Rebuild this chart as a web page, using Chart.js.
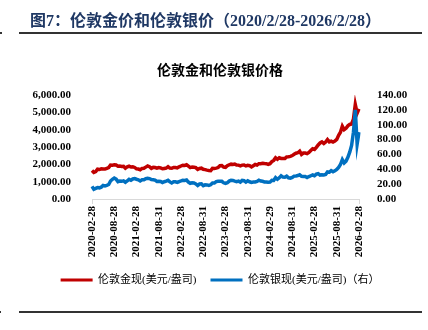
<!DOCTYPE html>
<html>
<head>
<meta charset="utf-8">
<script src="https://cdn.jsdelivr.net/npm/chart.js@4/dist/chart.umd.min.js"></script>
<style>
  body { margin: 0; background: #fff; }
  #wrap { position: relative; width: 428px; height: 330px; overflow: hidden; }
  #head { position: absolute; left: 30px; top: 7px; line-height: 22px; white-space: nowrap;
          font: bold 16px "Liberation Serif", "Noto Sans CJK SC"; color: #1f3864; }
  #sub { position: absolute; left: 0; top: 59px; width: 440px; text-align: center; line-height: 18px;
         font: bold 14px "Noto Sans CJK SC"; color: #000; }
  .rule { position: absolute; height: 2px; background: #333; }
  canvas { position: absolute; left: 0; top: 0; }
</style>
</head>
<body>
<div id="wrap">
  <canvas id="myChart" width="428" height="330"></canvas>
  <div id="head">图7：伦敦金价和伦敦银价（2020/2/28-2026/2/28）</div>
  <div class="rule" style="left:19px;top:32px;width:403px"></div>
  <div class="rule" style="left:0;top:32px;width:2px"></div>
  <div id="sub">伦敦金和伦敦银价格</div>
  <div class="rule" style="left:19px;top:311px;width:403px"></div>
  <div class="rule" style="left:0;top:311px;width:1px"></div>
</div>
<script>
// x-axis labels, one every six months
const tickLabels = ['2020-02-28', '2020-08-28', '2021-02-28', '2021-08-31', '2022-02-28', '2022-08-31',
  '2023-02-28', '2023-08-31', '2024-02-29', '2024-08-31', '2025-02-28', '2025-08-31', '2026-02-28'];

// London gold spot, USD/oz (mid-month and month-end)
const gold = [
  1640,
  1530, 1580, 1720, 1700, 1740, 1730, 1725, 1770, 1810, 1960, 1950, 1970, 1960, 1890, 1905, 1880, 1890, 1780, 1855, 1890,
  1845, 1860, 1820, 1740, 1730, 1690, 1765, 1770, 1840, 1905, 1860, 1765, 1825, 1815, 1780, 1815, 1795, 1745, 1765, 1785, 1860, 1780, 1770, 1820,
  1820, 1795, 1855, 1905, 1950, 1940, 1975, 1900, 1815, 1850, 1830, 1810, 1705, 1765, 1780, 1715, 1695, 1665, 1645, 1635, 1770, 1765, 1780, 1815,
  1920, 1925, 1840, 1825, 1920, 1975, 2010, 1990, 2015, 1960, 1955, 1915, 1955, 1960, 1905, 1940, 1925, 1850, 1920, 1990, 1960, 2040, 2040, 2065,
  2050, 2040, 2000, 2040, 2160, 2230, 2380, 2290, 2380, 2340, 2330, 2330, 2430, 2440, 2460, 2505, 2580, 2640, 2670, 2760, 2570, 2650, 2650, 2620,
  2690, 2800, 2900, 2860, 2980, 3120, 3230, 3290, 3200, 3290, 3430, 3300, 3340, 3290, 3340, 3440, 3680, 3850, 4200, 4000, 4080, 4220, 4300, 4330,
  4600, 5450, 4950, 5200
];

// London silver spot, USD/oz (right axis)
const silver = [
  17.0,
  13.0, 14.2, 15.3, 15.0, 16.0, 18.2, 17.6, 18.3, 19.5, 24.2, 26.5, 28.3, 26.8, 23.4, 24.2, 23.8, 24.5, 22.6, 24.4, 26.4,
  25.2, 26.9, 27.4, 26.6, 25.9, 24.3, 25.8, 25.9, 27.4, 27.9, 27.5, 26.1, 26.0, 25.5, 23.6, 23.9, 23.6, 22.1, 23.3, 24.0, 25.1, 23.0, 21.6, 23.1,
  23.1, 22.4, 23.5, 24.3, 25.2, 25.0, 25.6, 22.8, 21.1, 21.7, 21.5, 20.3, 18.3, 20.2, 20.4, 17.9, 19.1, 19.0, 18.4, 19.1, 21.6, 21.5, 23.5, 23.9,
  24.0, 23.8, 21.8, 20.9, 21.9, 24.1, 25.3, 25.0, 24.1, 23.4, 24.0, 22.8, 25.0, 24.7, 22.7, 24.5, 23.2, 22.4, 22.8, 22.9, 23.7, 25.3, 24.1, 23.8,
  23.0, 23.0, 22.5, 22.7, 25.2, 24.9, 28.8, 26.5, 28.5, 31.3, 29.5, 29.2, 30.8, 28.5, 28.0, 29.0, 30.8, 31.1, 31.5, 32.6, 30.5, 30.3, 30.3, 28.9,
  30.2, 31.3, 32.3, 31.3, 33.4, 34.1, 32.2, 32.5, 32.3, 33.0, 36.4, 36.0, 38.2, 36.7, 37.9, 39.7, 42.5, 46.4, 53.0, 48.5, 51.0, 56.0, 63.0, 72.0,
  90.0, 120.0, 74.0, 90.0
];

// dates: 2020-02-28, then the 15th and last day of every month
const dates = ['2020-02-28'];
for (let y = 2020, m = 3; y < 2026 || m <= 2; m++) {
  if (m > 12) { m = 1; y++; }
  if (y === 2026 && m > 2) break;
  const mm = String(m).padStart(2, '0');
  const last = new Date(y, m, 0).getDate();
  dates.push(y + '-' + mm + '-15', y + '-' + mm + '-' + last);
}

const axisFont = { family: 'Liberation Serif', size: 11, weight: 'bold' };
const legendFont = { family: '"Liberation Serif", "Noto Sans CJK SC"', size: 11 };

new Chart(document.getElementById('myChart'), {
  type: 'line',
  data: {
    labels: dates,
    datasets: [
      {
        label: '伦敦金现(美元/盎司)',
        data: gold,
        yAxisID: 'y',
        borderColor: '#c00000',
        backgroundColor: '#c00000',
        borderWidth: 3.5,
        pointRadius: 0,
        order: 1
      },
      {
        label: '伦敦银现(美元/盎司)（右）',
        data: silver,
        yAxisID: 'y1',
        borderColor: '#0070c0',
        backgroundColor: '#0070c0',
        borderWidth: 3.5,
        pointRadius: 0,
        order: 0
      }
    ]
  },
  options: {
    responsive: false,
    animation: false,
    devicePixelRatio: 1,
    layout: { padding: { top: 95, left: 12, right: 0, bottom: 34.5 } },
    plugins: {
      title: { display: false },
      tooltip: { enabled: false },
      legend: {
        position: 'bottom',
        labels: {
          boxWidth: 32,
          boxHeight: 3,
          padding: 14,
          color: '#000',
          font: legendFont,
          sort: (a, b) => a.datasetIndex - b.datasetIndex,
          generateLabels: chart => chart.data.datasets.map((ds, i) => ({
            text: ds.label,
            fillStyle: ds.borderColor,
            strokeStyle: ds.borderColor,
            lineWidth: 0,
            fontColor: '#000',
            hidden: false,
            datasetIndex: i
          }))
        }
      }
    },
    scales: {
      x: {
        offset: false,
        afterFit: s => { s.height = 61.5; },
        border: { color: '#d9d9d9' },
        grid: {
          drawOnChartArea: false,
          tickLength: 5,
          color: c => (c.index % 12 === 0 ? '#d9d9d9' : 'rgba(0,0,0,0)')
        },
        ticks: {
          autoSkip: false,
          minRotation: 90,
          maxRotation: 90,
          padding: 2,
          color: '#000',
          font: axisFont,
          callback: (v, i) => (i % 12 === 0 ? tickLabels[i / 12] : null)
        }
      },
      y: {
        position: 'left',
        min: 0,
        max: 6000,
        afterFit: s => { s.width = 80; },
        border: { display: false },
        grid: { display: false },
        ticks: {
          stepSize: 1000,
          autoSkip: false,
          padding: 13,
          color: '#000',
          font: axisFont,
          callback: v => v.toLocaleString('en-US', { minimumFractionDigits: 2, maximumFractionDigits: 2 })
        }
      },
      y1: {
        position: 'right',
        min: 0,
        max: 140,
        afterFit: s => { s.width = 69; },
        border: { display: false },
        grid: { display: false },
        ticks: {
          stepSize: 20,
          autoSkip: false,
          padding: 10,
          color: '#000',
          font: axisFont,
          callback: v => v.toFixed(2)
        }
      }
    }
  }
});
</script>
</body>
</html>
